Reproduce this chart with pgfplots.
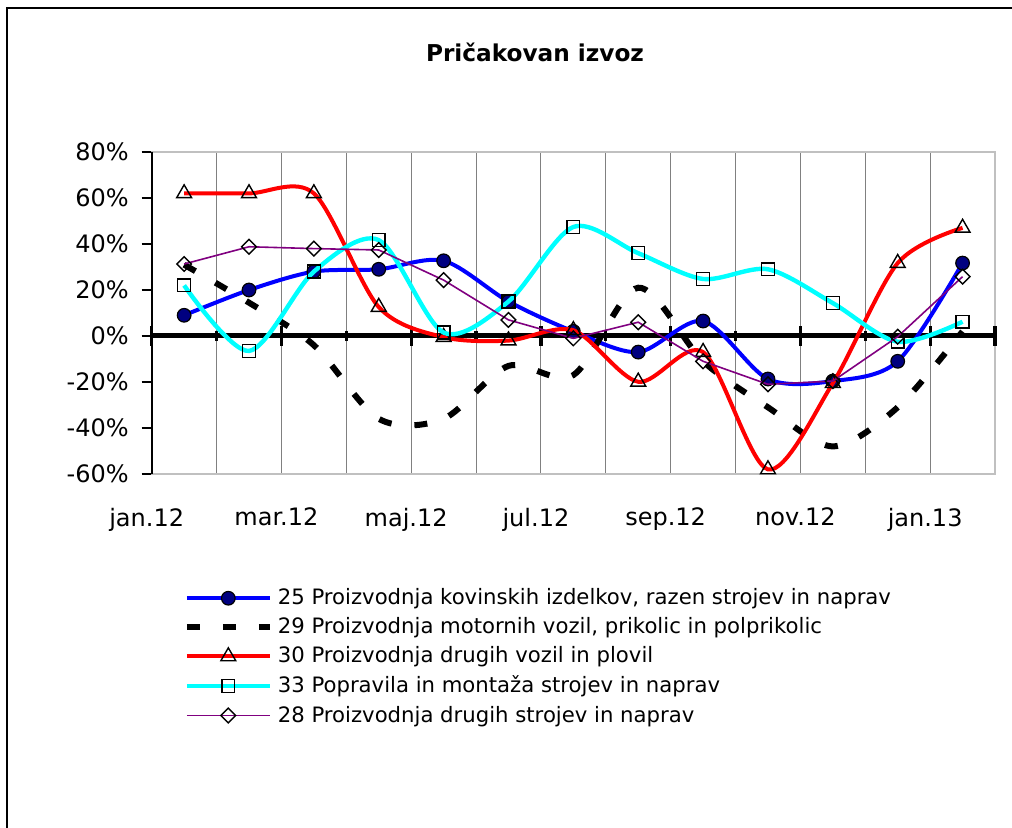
\documentclass[border=0pt]{standalone}
\usepackage{fontspec}
\setmainfont{DejaVu Sans}
\usepackage{pgfplots}
\pgfplotsset{compat=1.18}
\definecolor{navyc}{HTML}{000080}
\definecolor{cyanc}{HTML}{00FFFF}
\definecolor{purplec}{HTML}{800080}
\definecolor{gridc}{HTML}{808080}
\definecolor{framec}{HTML}{C0C0C0}
\begin{document}
\begin{tikzpicture}[x=1pt,y=1pt]
\path[use as bounding box] (0,0) rectangle (506,413.5);
\draw[line width=1.2pt] (3.5,-10) -- (3.5,409.5) -- (520,409.5);
\node[font=\bfseries\fontsize{11.6}{14}\selectfont] at (267.5,387.5) {Pričakovan izvoz};
\begin{axis}[at={(75.85pt,176.5pt)}, anchor=south west, scale only axis,
 width=421.65pt, height=161pt,
 xmin=-0.5, xmax=12.5, ymin=-60, ymax=80,
 xtick={-0.5,1.5,3.5,5.5,7.5,9.5,11.5},
 xticklabels={jan.12,mar.12,maj.12,jul.12,sep.12,nov.12,jan.13},
 minor xtick={0.5,2.5,4.5,6.5,8.5,10.5,12.5},
 xmajorgrids, xminorgrids,
 major grid style={gridc, line width=0.5pt},
 minor grid style={gridc, line width=0.5pt},
 xtick style={draw=none},
 ytick={-60,-40,...,80},
 yticklabel={\pgfmathprintnumber{\tick}\%},
 ytick pos=left, tick align=outside, major tick length=5pt,
 ytick style={black, line width=0.6pt},
 axis line style={draw=framec, line width=0.8pt},
 ticklabel style={font=\fontsize{12}{14}\selectfont},
 xticklabel style={xshift=-2.5pt, yshift=-8.5pt},
 yticklabel style={xshift=-3pt},
 /pgf/number format/assume math mode=true,
 clip mode=individual,
 legend style={at={(0.0305,-0.33)}, anchor=north west, draw=none, fill=none,
   font=\fontsize{10.6}{13}\selectfont, row sep=1pt,
   nodes={inner xsep=2.5pt}},
 legend cell align=left,
 legend image code/.code={\draw[mark repeat=2,mark phase=2,#1] plot coordinates {(0pt,0pt) (20.75pt,0pt) (41.5pt,0pt)};},
]
\addplot[forget plot, black, line width=2.5pt] coordinates {(-0.5,0) (12.5,0)};
\addplot[forget plot, only marks, mark=|, mark size=4.8pt, mark options={line width=1.6pt}] coordinates {(-0.5,0) (1.5,0) (3.5,0) (5.5,0) (7.5,0) (9.5,0) (11.5,0) (12.5,0)};
\addplot[forget plot, only marks, mark=|, mark size=2.6pt, mark options={line width=1.6pt}] coordinates {(0.5,0) (2.5,0) (4.5,0) (6.5,0) (8.5,0) (10.5,0)};
% 25
\addplot[blue, line width=2pt, smooth, mark=*, mark size=3.4pt, mark options={fill=navyc, draw=black, line width=0.6pt, solid}] coordinates {
(0,9) (1,20) (2,28) (3,29) (4,32.7) (5,15) (6,2) (7,-7) (8,6.5) (9,-18.7) (10,-19.6) (11,-11) (12,31.7)};
\addlegendentry{25 Proizvodnja kovinskih izdelkov, razen strojev in naprav}
% 29
\addplot[black, line width=3pt, smooth, dash pattern=on 6.5pt off 11.5pt, mark=none] coordinates {
(0,31) (1,14.5) (2,-4) (3,-36) (4,-36) (5,-13) (6,-17) (7,21) (8,-11) (9,-31) (10,-48) (11,-31) (12,2)};
\addlegendentry{29 Proizvodnja motornih vozil, prikolic in polprikolic}
% 30
\addplot[red, line width=2pt, smooth, mark=triangle, mark size=4.3pt, mark options={fill=white, draw=black, line width=0.7pt, solid}] coordinates {
(0,62) (1,62) (2,62) (3,12.6) (4,-0.5) (5,-2) (6,2.5) (7,-19.9) (8,-7) (9,-58) (10,-20.5) (11,31.7) (12,47)};
\addlegendentry{30 Proizvodnja drugih vozil in plovil}
% 33
\addplot[cyanc, line width=2.2pt, smooth, mark=square, mark size=3.2pt, mark options={fill=white, draw=black, line width=0.7pt, solid}] coordinates {
(0,22) (1,-6.5) (2,28) (3,41.7) (4,1.5) (5,15) (6,47.4) (7,36) (8,24.8) (9,29) (10,14.3) (11,-2.5) (12,6.2)};
\addlegendentry{33 Popravila in montaža strojev in naprav}
% 28
\addplot[purplec, line width=0.8pt, mark=square, mark size=2.6pt, mark options={rotate=45, fill=white, draw=black, line width=0.7pt, solid}] coordinates {
(0,31.3) (1,38.8) (2,38) (3,37.4) (4,24.3) (5,7) (6,-1) (7,6) (8,-11) (9,-21) (10,-19.6) (11,-0.3) (12,25.8)};
\addlegendentry{28 Proizvodnja drugih strojev in naprav}
\draw[black, line width=0.8pt] (rel axis cs:0,0) -- (rel axis cs:0,1);
\end{axis}
\end{tikzpicture}
\end{document}
